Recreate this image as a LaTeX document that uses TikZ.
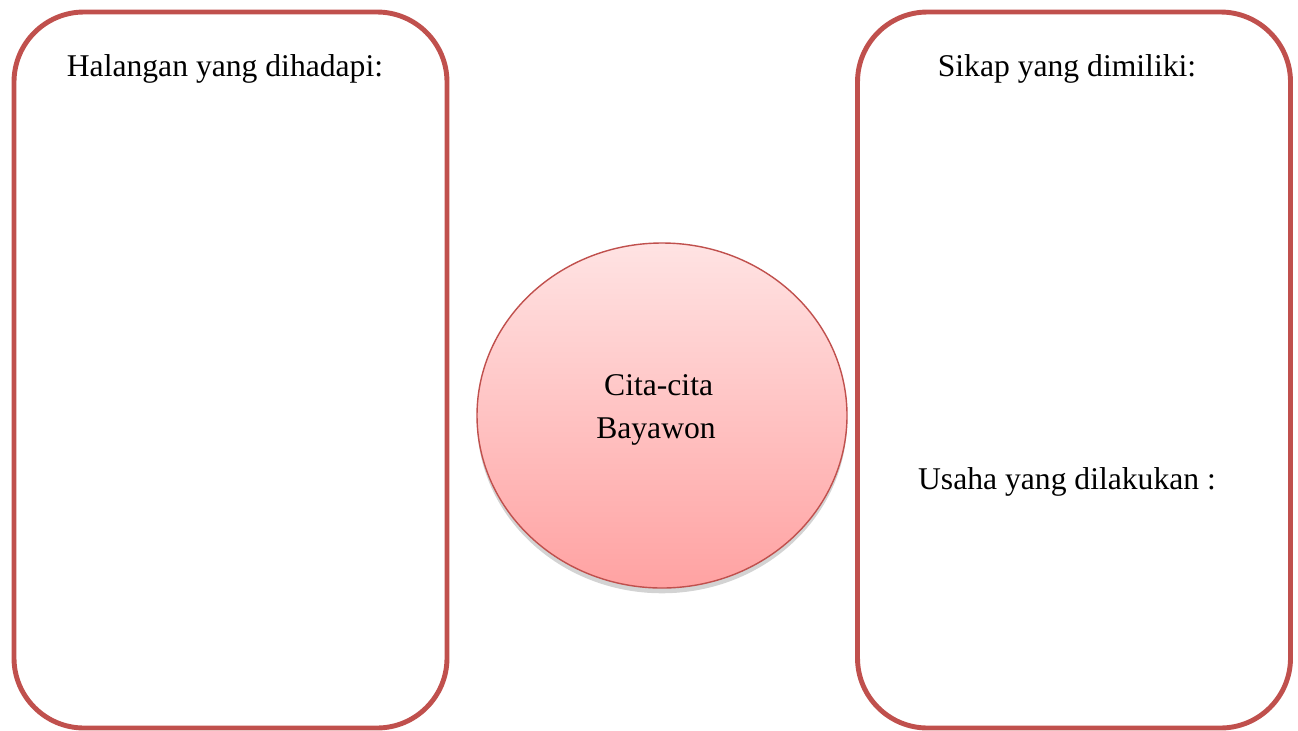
\documentclass[tikz,border=0pt]{standalone}
\usepackage{fontspec}
\setmainfont{Liberation Serif}
\usepackage{xcolor}
\usepackage{tikz}
\usetikzlibrary{positioning,shapes.geometric,shadows}
\definecolor{boxred}{HTML}{C0504D}
\definecolor{pinktop}{HTML}{FFE3E3}
\definecolor{pinkbot}{HTML}{FFA2A2}

\begin{document}
\begin{tikzpicture}[font=\fontsize{18}{24}\selectfont]
\tikzset{panel/.style={draw=boxred, line width=2.8pt, rectangle, rounded corners=1.4cm, minimum width=8.66cm, minimum height=14.32cm}}
\tikzset{lbl/.style={anchor=base, inner sep=0pt}}

\useasboundingbox (0,0) rectangle (25.96,-14.6);

% Panels left and right
\node[panel] (halangan) at (4.61,-7.4) {};
\node[panel] (sikap) at (21.48,-7.4) {};

% Panel texts
\node[lbl] (thalangan) at (4.5,-1.52) {Halangan yang dihadapi:};
\node[lbl] (tsikap) at (21.34,-1.52) {Sikap yang dimiliki:};
\node[lbl] (tusaha) at (21.34,-9.78) {Usaha yang dilakukan :};

% Centre circle
\node[ellipse, draw=boxred, line width=0.8pt, inner sep=0pt,
 minimum width=7.4cm, minimum height=6.9cm,
 top color=pinktop, bottom color=pinkbot,
 drop shadow={shadow xshift=0pt, shadow yshift=-3pt, opacity=0.35}] (cita) at (13.24,-8.31) {};
\node[align=left, inner sep=0pt] (tcita) at (13.12,-8.2)
{\ Cita-cita\\Bayawon};

\end{tikzpicture}
\end{document}
